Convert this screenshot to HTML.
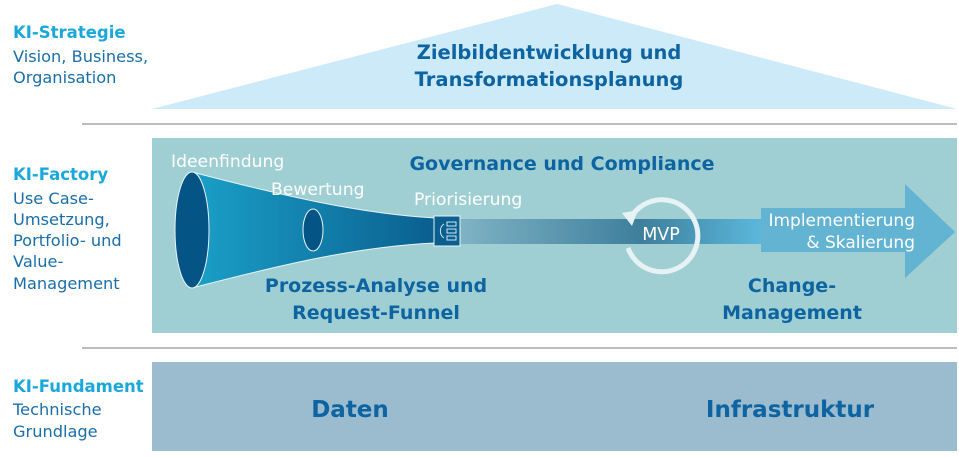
<!DOCTYPE html>
<html><head><meta charset="utf-8"><style>
html,body{margin:0;padding:0;background:#fff;}
svg text{font-family:"DejaVu Sans","Liberation Sans",sans-serif;}
</style></head><body>
<svg width="959" height="452" viewBox="0 0 959 452" xmlns="http://www.w3.org/2000/svg">
<defs>
<linearGradient id="fun" x1="0" x2="1" y1="0" y2="0">
<stop offset="0" stop-color="#1aa0c8"/><stop offset="1" stop-color="#0a5f8f"/></linearGradient>
<linearGradient id="bar" x1="0" x2="1" y1="0" y2="0">
<stop offset="0" stop-color="#7fb2c4"/><stop offset="0.6" stop-color="#3e7f9c"/><stop offset="1" stop-color="#5bb8dc"/></linearGradient>
</defs>
<!-- left labels -->
<g font-size="16.2" fill="#1a6ea8">
<text x="13" y="38" fill="#1aa8dc" font-weight="bold" font-size="16.5">KI-Strategie</text>
<text x="13" y="62">Vision, Business,</text>
<text x="13" y="83">Organisation</text>
<text x="13" y="180" fill="#1aa8dc" font-weight="bold" font-size="16.5">KI-Factory</text>
<text x="13" y="204">Use Case-</text>
<text x="13" y="225">Umsetzung,</text>
<text x="13" y="246">Portfolio- und</text>
<text x="13" y="267">Value-</text>
<text x="13" y="289">Management</text>
<text x="13" y="392" fill="#1aa8dc" font-weight="bold" font-size="16.5">KI-Fundament</text>
<text x="13" y="415">Technische</text>
<text x="13" y="437">Grundlage</text>
</g>
<!-- top triangle -->
<polygon points="152,109 557,4 957,109" fill="#cdeaf9"/>
<text x="549" y="59" font-size="19.5" font-weight="bold" fill="#0d64a0" text-anchor="middle">Zielbildentwicklung und</text>
<text x="549" y="86" font-size="19.5" font-weight="bold" fill="#0d64a0" text-anchor="middle">Transformationsplanung</text>
<line x1="82" y1="124" x2="957" y2="124" stroke="#bdbdbd" stroke-width="2"/>
<!-- factory -->
<rect x="152" y="138" width="805" height="195" fill="#9fcfd3"/>
<line x1="82" y1="348" x2="957" y2="348" stroke="#bdbdbd" stroke-width="2"/>
<!-- bottom -->
<rect x="152" y="362" width="805" height="89" fill="#9bbbcf"/>
<text x="350" y="417" font-size="23" font-weight="bold" fill="#0d64a0" text-anchor="middle">Daten</text>
<text x="790" y="417" font-size="23" font-weight="bold" fill="#0d64a0" text-anchor="middle">Infrastruktur</text>
<!-- bar -->
<rect x="460" y="219" width="302" height="25" fill="url(#bar)"/>
<!-- arrow -->
<polygon points="761,208 905,208 905,184 955,232 905,278 905,252 761,252" fill="#63b3d3"/>
<text x="915" y="226" font-size="17" fill="#fff" text-anchor="end">Implementierung</text>
<text x="915" y="248" font-size="17" fill="#fff" text-anchor="end">&amp; Skalierung</text>
<!-- funnel -->
<path d="M192,172 C280,195 360,214 436,218 L436,243 C360,246 280,265 192,288 Z" fill="url(#fun)" stroke="#e8f4f8" stroke-width="1"/>
<ellipse cx="192" cy="230" rx="17" ry="58" fill="#045585" stroke="#e8f4f8" stroke-width="1"/>
<ellipse cx="313" cy="230" rx="10" ry="21" fill="#045585" stroke="#e8f4f8" stroke-width="1"/>
<rect x="434" y="216" width="26" height="30" fill="#0a5f8f" stroke="#e8f4f8" stroke-width="1"/>
<rect x="447" y="222" width="9" height="4" fill="none" stroke="#cfe6f0"/>
<rect x="447" y="229" width="9" height="4" fill="none" stroke="#cfe6f0"/>
<rect x="447" y="236" width="9" height="4" fill="none" stroke="#cfe6f0"/>
<path d="M444,224 a7,8 0 0 0 0,14" fill="none" stroke="#cfe6f0"/>
<!-- MVP cycle -->
<path d="M630,219 A36,36 0 1 1 628,248" fill="none" stroke="#e6f2f4" stroke-width="5"/>
<polygon points="622,213 638,210 632,226" fill="#e6f2f4"/>
<text x="661" y="240" font-size="17.5" fill="#fff" text-anchor="middle">MVP</text>
<!-- factory labels -->
<g fill="#fff" font-size="17.2">
<text x="171" y="167">Ideenfindung</text>
<text x="271" y="195">Bewertung</text>
<text x="414" y="205">Priorisierung</text>
</g>
<g fill="#0d64a0" font-size="19" font-weight="bold" text-anchor="middle">
<text x="562" y="170">Governance und Compliance</text>
<text x="376" y="292">Prozess-Analyse und</text>
<text x="376" y="319">Request-Funnel</text>
<text x="792" y="292">Change-</text>
<text x="792" y="319">Management</text>
</g>
</svg>
</body></html>
